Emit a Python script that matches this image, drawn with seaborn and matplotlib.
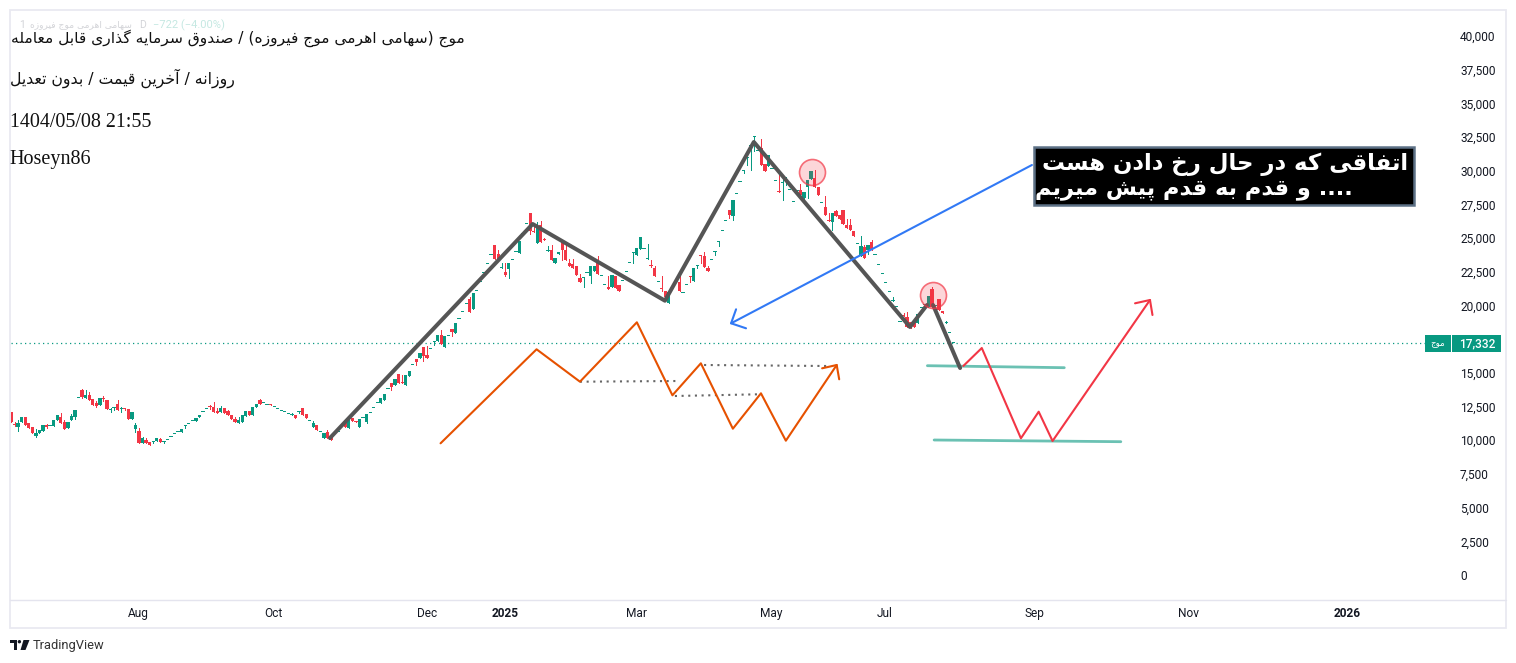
import numpy as np
import pandas as pd
import seaborn as sns
import matplotlib
matplotlib.use('Agg')
import matplotlib.pyplot as plt
from matplotlib.patches import Rectangle, Polygon, Circle

# daily candles, ten bars per row
bar_open = [
    12070,11140,10960,11350,11720,11280,10980,10340,10560,10710,
    11130,11060,11060,11500,11720,11380,10930,11500,11750,13110,
    13750,13130,13360,13040,12790,12620,13160,12990,12270,12370,
    12690,12290,12390,12290,11600,10810,10690,9820,10020,9850,
    9900,9940,10090,9900,9990,10220,10440,10590,10590,11030,
    11180,11400,11430,11720,12070,12290,12440,12470,12170,12100,
    12390,12140,11900,11600,11300,11350,11820,12190,11870,12490,
    12990,12740,12590,12600,12440,12290,12140,12070,11920,11870,
    11870,12120,12390,11970,11400,10980,11130,10590,10170,10590,
    10220,10560,10640,11030,11380,10930,11650,11340,11010,11630,
    11350,11990,12370,12740,12740,13010,13780,14220,14120,14915,
    14280,14120,14790,15560,16000,16100,16920,16330,16750,17260,
    17390,17810,16890,17710,18250,17960,18970,19490,20080,20480,
    19740,21050,21720,22390,23050,23720,24490,23790,22760,22480,
    22710,23350,23990,23920,25280,26020,26860,25530,24660,25970,
    24860,24070,24120,23180,23820,24710,24120,23170,23050,22950,
    22040,22010,22390,22210,22560,23270,22160,21500,21350,21350,
    22190,21520,21840,22460,23130,23870,23750,24220,24170,23420,
    22960,22760,21720,21220,21070,20210,21350,21770,21720,20900,
    21500,22130,21820,22950,23650,23670,22760,23350,23990,24730,
    25530,26270,27080,26640,28250,29140,30000,30920,31830,32470,
    31460,31660,30500,30350,30100,29210,28400,29060,29190,28570,
    27650,28490,28570,27970,28760,29360,29460,28790,27600,27280,
    26250,26190,27010,26710,27110,25970,25970,25530,24540,23700,
    24360,24120,24710,23720,22980,22310,21640,20980,20360,19910,
    18750,19220,19170,18800,18850,18680,19840,20040,19910,21220,
    19960,20480,19590,18725,17930,17210,
]
bar_high = [
    12070,11380,11500,11720,11720,11280,10980,10810,10760,11130,
    11200,11060,11500,11870,12050,11500,11380,11950,12240,13110,
    13800,13730,13580,13040,12940,13130,13280,12990,12420,12470,
    12990,12490,12390,12290,12100,11260,10880,10270,10140,9850,
    9900,10140,10170,9900,9990,10220,10440,10590,10830,11030,
    11180,11400,11650,11870,12070,12290,12590,12810,12420,12540,
    12390,12240,11900,11720,11750,11850,12170,12190,12470,12690,
    13060,12740,12590,12690,12440,12290,12140,12070,11920,12020,
    11870,12120,12390,11970,11400,11450,11130,10590,10560,10740,
    10220,10560,10640,11030,11380,11630,11650,11450,11580,11630,
    11920,11990,12370,12740,13140,13410,13780,14220,14540,14915,
    14840,14840,15140,15560,16000,16450,16920,16990,16750,17260,
    17810,18150,17730,17710,18250,18700,18970,19490,20080,20650,
    20900,21050,21720,22390,23050,23720,24490,24120,23130,23180,
    23150,23350,23990,24780,25280,26020,26860,25970,26220,26270,
    25030,24410,24490,23550,23970,24710,24730,23420,23420,22950,
    22340,22060,22390,22950,22950,23670,22160,21500,22190,22240,
    22190,21520,21840,22460,23130,23870,24260,25080,24170,24560,
    23370,22930,21720,22190,21070,21000,21350,21770,22380,20900,
    21500,22130,22760,22950,23650,23940,22930,23350,23990,24730,
    25530,26270,27080,27830,28250,29140,30000,30920,31830,32470,
    31460,32350,30500,31160,30100,29210,29730,29680,29510,28570,
    27650,28490,29010,28420,29310,29980,30050,28790,27600,28120,
    26890,26840,27080,26710,27110,26390,26420,25530,24540,25160,
    24490,24490,24860,23720,22980,22310,21640,20980,20650,19910,
    18750,19470,19520,18800,18850,19340,19840,20040,20700,21400,
    19960,20480,19590,18870,17930,17210,
]
bar_low = [
    11380,11060,10690,11350,11160,10910,10560,10240,10560,10710,
    10880,11060,11060,11500,11300,10830,10930,11500,11600,13110,
    13160,13130,12990,12620,12470,12620,12910,12320,12100,12270,
    12270,12100,12220,11580,11600,10640,9820,9820,9820,9650,
    9800,9940,9900,9800,9990,10220,10440,10590,10590,10910,
    11180,11400,11430,11720,12070,12290,12290,12120,12020,12100,
    11990,11870,11580,11350,11300,11350,11820,11870,11870,12490,
    12710,12740,12590,12590,12440,12290,12140,12070,11920,11870,
    11670,12020,11900,11670,11400,10980,10780,10590,10170,10140,
    10040,10560,10640,11030,11010,10930,11450,11330,11010,11630,
    11300,11990,12370,12740,12740,13010,13780,13730,14120,14220,
    14270,14120,14790,15560,15610,16100,15900,16130,16750,17090,
    17390,17120,16890,17710,17760,17960,18970,19490,20080,19540,
    19740,21050,21720,22390,23050,23720,23450,23300,22760,22190,
    22010,23350,23990,23920,25280,26020,25300,25430,24660,24730,
    24850,24070,23370,23180,23820,23370,23370,22950,22800,22260,
    21740,21370,22390,21670,22560,22340,22160,21500,21220,21350,
    21300,21070,21840,22460,23130,23130,23750,24220,24170,23420,
    22880,22190,21720,21100,20630,20210,21350,21770,21070,20900,
    21500,21770,21820,22800,23180,22850,22560,23350,23750,24440,
    25530,26270,26520,26340,28250,29140,29800,30420,30050,31490,
    31460,30420,29980,30350,30100,29210,28390,27830,28940,28570,
    27650,28490,28070,27830,27950,29360,28810,28200,27600,26710,
    26240,25600,26610,26420,26050,25750,25600,25160,24540,23700,
    23520,23820,24120,23720,22980,22310,21640,20980,20360,19910,
    18750,19200,18430,18300,18430,18680,19840,20040,19910,19910,
    19960,19660,19420,18725,17930,17210,
]
bar_close = [
    11380,11100,11300,11720,11160,10910,10560,10510,10760,11130,
    11010,11060,11500,11870,11300,10830,11380,11800,12240,13110,
    13210,13360,12990,12620,12540,13130,13040,12320,12270,12370,
    12270,12290,12290,11580,12100,11130,9820,10170,9820,9650,
    9900,10140,9900,9900,9990,10220,10440,10590,10830,11030,
    11180,11400,11650,11870,12070,12290,12430,12120,12020,12390,
    11990,11870,11580,11350,11500,11850,12170,11870,12470,12690,
    12710,12740,12590,12590,12440,12290,12140,12070,11920,11870,
    11670,12120,11900,11670,11400,11280,10780,10590,10560,10140,
    10040,10560,10640,11030,11010,11630,11450,11330,11580,11630,
    11920,11990,12370,12740,13140,13410,13780,13950,14540,14220,
    14270,14840,15140,15560,15810,16450,16280,16130,16750,17260,
    17810,17120,17730,17710,18030,18700,18970,19490,20080,19540,
    20900,21050,21720,22390,23050,23720,23450,23300,22760,22260,
    23150,23350,23990,24780,25280,26020,25530,25430,25800,24730,
    24850,24070,23370,23550,23970,24140,23370,22950,22800,22260,
    21740,22010,22390,22950,22950,22340,22160,21500,21220,22240,
    21300,21070,21840,22460,23130,23870,24260,25080,24170,23420,
    22950,22190,21720,21200,20630,21000,21350,21770,21070,20900,
    21500,22120,22760,22950,23640,22850,22560,23350,23990,24730,
    25530,26270,26710,27830,28250,29140,30000,30920,31830,32470,
    31460,30420,29980,31160,30100,29210,28390,29060,29190,28570,
    27650,28490,28200,28420,29310,29980,28810,28200,27600,26710,
    26240,26840,26610,26420,26050,25750,25600,25160,24540,24410,
    23520,24490,24120,23720,22980,22310,21640,20980,20360,19910,
    18750,19200,18430,18300,18430,19340,19840,20040,20700,19910,
    19960,19660,19420,18725,17930,17210,
]
last_line = 17210
last_label = '17,332'

# hand drawn lines on the chart: bar number and price
wave_x = [89.7, 146.7, 183.9, 208.9, 252.8, 257.6]
wave_y = [10165, 26044, 20353, 32129, 18402, 20034]
wave2_x = [259.3, 266.9]
wave2_y = [20034, 15359]
orange_x = [120.8, 147.8, 160, 176, 186, 194, 203, 210.9, 217.9, 232.2]
orange_y = [9772, 16747, 14343, 18750, 13334, 15708, 10855, 13482, 9965, 15582]
orange_head_x = [228.1, 232.2, 232.9]
orange_head_y = [15337, 15582, 14521]
dots = [([160, 187.7], [14343, 14395]),
        ([186.7, 210.2], [13282, 13408]),
        ([194.9, 229.4], [15582, 15508])]
red_x = [267.8, 273, 284, 289, 292.9, 320.3]
red_y = [15508, 16843, 10143, 12117, 9943, 20405]
red_head_x = [316.1, 320.3, 321]
red_head_y = [20160, 20405, 19292]
teal = [([257.7, 296.2], [15530, 15382]),
        ([259.6, 312.1], [10017, 9891])]
blue_x = [287.1, 202.5]
blue_y = [30422, 18676]
blue_head_x = [203.9, 202.5, 206.7]
blue_head_y = [19715, 18676, 18305]
circle_x = [225.3, 259.4]
circle_y = [29903, 20754]

# the price tag hides the 17,500 label
y_ticks = [0, 2500, 5000, 7500, 10000, 12500, 15000, 20000, 22500, 25000,
           27500, 30000, 32500, 35000, 37500, 40000]
x_ticks = [35.7, 73.7, 117, 138.9, 176, 213.7, 245.8, 287.7, 331, 375.7]
x_labels = ['Aug', 'Oct', 'Dec', '2025', 'Mar', 'May', 'Jul', 'Sep', 'Nov', '2026']

title1 = 'موج (سهامی اهرمی موج فیروزه) / صندوق سرمایه گذاری قابل معامله'
title2 = 'روزانه / آخرین قیمت / بدون تعدیل'
faint = 'سهامی اهرمی موج فیروزه'
box1 = 'اتفاقی که در حال رخ دادن هست'
box2 = '.... و قدم به قدم پیش میریم'

RED = '#f23645'
GREEN = '#089981'

# isolated, final, initial, medial
forms = {
    'ا': (0xFE8D, 0xFE8E), 'آ': (0xFE81, 0xFE82), 'د': (0xFEA9, 0xFEAA),
    'ذ': (0xFEAB, 0xFEAC), 'ر': (0xFEAD, 0xFEAE), 'ز': (0xFEAF, 0xFEB0),
    'و': (0xFEED, 0xFEEE),
    'ب': (0xFE8F, 0xFE90, 0xFE91, 0xFE92), 'پ': (0xFB56, 0xFB57, 0xFB58, 0xFB59),
    'ت': (0xFE95, 0xFE96, 0xFE97, 0xFE98), 'ج': (0xFE9D, 0xFE9E, 0xFE9F, 0xFEA0),
    'ح': (0xFEA1, 0xFEA2, 0xFEA3, 0xFEA4), 'خ': (0xFEA5, 0xFEA6, 0xFEA7, 0xFEA8),
    'س': (0xFEB1, 0xFEB2, 0xFEB3, 0xFEB4), 'ش': (0xFEB5, 0xFEB6, 0xFEB7, 0xFEB8),
    'ص': (0xFEB9, 0xFEBA, 0xFEBB, 0xFEBC), 'ع': (0xFEC9, 0xFECA, 0xFECB, 0xFECC),
    'ف': (0xFED1, 0xFED2, 0xFED3, 0xFED4), 'ق': (0xFED5, 0xFED6, 0xFED7, 0xFED8),
    'ک': (0xFB8E, 0xFB8F, 0xFB90, 0xFB91), 'گ': (0xFB92, 0xFB93, 0xFB94, 0xFB95),
    'ل': (0xFEDD, 0xFEDE, 0xFEDF, 0xFEE0), 'م': (0xFEE1, 0xFEE2, 0xFEE3, 0xFEE4),
    'ن': (0xFEE5, 0xFEE6, 0xFEE7, 0xFEE8), 'ه': (0xFEE9, 0xFEEA, 0xFEEB, 0xFEEC),
    'ی': (0xFBFC, 0xFBFD, 0xFBFE, 0xFBFF),
}


# matplotlib does no shaping or right to left, so do it here
def fa(text):
    out = []
    for i, ch in enumerate(text):
        if ch not in forms:
            out.append({'(': ')', ')': '('}.get(ch, ch))
            continue
        prev = text[i - 1] if i > 0 else ' '
        nxt = text[i + 1] if i < len(text) - 1 else ' '
        joins_prev = prev in forms and len(forms[prev]) == 4
        joins_next = nxt in forms and len(forms[ch]) == 4
        if joins_prev and joins_next:
            code = forms[ch][3]
        elif joins_next:
            code = forms[ch][2]
        elif joins_prev:
            code = forms[ch][1]
        else:
            code = forms[ch][0]
        out.append(chr(code))
    return ''.join(reversed(out))


sns.set_theme(style='white')
plt.rcParams['font.family'] = ['Roboto', 'DejaVu Sans']

df = pd.DataFrame({'open': bar_open, 'high': bar_high, 'low': bar_low, 'close': bar_close})
df['bar'] = np.arange(len(df))
df['color'] = np.where(df['close'] >= df['open'], GREEN, RED)
df['body'] = (df['close'] - df['open']).abs().clip(lower=75)
df['bottom'] = df[['open', 'close']].min(axis=1)

fig = plt.figure(figsize=(15.16, 6.63), dpi=100)
ax = fig.add_axes([11 / 1516, 63 / 663, 1440 / 1516, 589 / 663])

ax.axhline(last_line, color=GREEN, lw=0.9, ls=(0, (1, 2.6)), zorder=1)
ax.vlines(df['bar'], df['low'], df['high'], colors=df['color'], lw=0.72, antialiased=False, zorder=2)
ax.bar(df['bar'], df['body'], bottom=df['bottom'], width=0.92, color=df['color'], lw=0,
       antialiased=False, zorder=3)

sns.lineplot(x=wave_x, y=wave_y, sort=False, estimator=None, color='#555555', lw=2.9, ax=ax, zorder=5)
sns.lineplot(x=wave2_x, y=wave2_y, sort=False, estimator=None, color='#555555', lw=2.9, ax=ax, zorder=5)
for xs, ys in dots:
    sns.lineplot(x=xs, y=ys, sort=False, estimator=None, color='#666666', lw=1.5, ls=(0, (1, 2.2)), ax=ax, zorder=4)
for xs, ys in teal:
    sns.lineplot(x=xs, y=ys, sort=False, estimator=None, color='#089981', alpha=0.6, lw=2, ax=ax, zorder=4)
sns.lineplot(x=orange_x, y=orange_y, sort=False, estimator=None, color='#e65100', lw=1.5, ax=ax, zorder=4)
sns.lineplot(x=orange_head_x, y=orange_head_y, sort=False, estimator=None, color='#e65100', lw=1.5, ax=ax, zorder=4)
sns.lineplot(x=red_x, y=red_y, sort=False, estimator=None, color=RED, lw=1.5, ax=ax, zorder=6)
sns.lineplot(x=red_head_x, y=red_head_y, sort=False, estimator=None, color=RED, lw=1.5, ax=ax, zorder=6)
sns.lineplot(x=blue_x, y=blue_y, sort=False, estimator=None, color='#3179f5', lw=1.5, ax=ax, zorder=6)
sns.lineplot(x=blue_head_x, y=blue_head_y, sort=False, estimator=None, color='#3179f5', lw=1.5, ax=ax, zorder=6)
sns.scatterplot(x=circle_x, y=circle_y, s=350, facecolor=(0.95, 0.21, 0.27, 0.2),
                edgecolor=(0.95, 0.21, 0.27, 0.7), linewidth=1.2, ax=ax, zorder=7)

ax.set_xlim(0, 404.95)
ax.set_ylim(-1855, 41849)
ax.set_xticks(x_ticks, x_labels)
ax.set_yticks(y_ticks, [f'{v:,}' for v in y_ticks])
ax.yaxis.tick_right()
ax.tick_params(axis='y', length=0, pad=6.5, labelsize=8.6, labelcolor='#131722')
ax.tick_params(axis='x', length=0, pad=5.2, labelsize=8.6, labelcolor='#131722')
for lab in ax.get_yticklabels():
    lab.set_va('center_baseline')
for lab in ax.get_xticklabels():
    if lab.get_text() in ('2025', '2026'):
        lab.set_fontweight('bold')
sns.despine(ax=ax, left=True, right=True, top=True, bottom=True)

# frame, header, callout and logo sit on a pixel sized overlay
top = fig.add_axes([0, 0, 1, 1], zorder=10)
top.set_xlim(0, 1516)
top.set_ylim(663, 0)
top.axis('off')
top.patch.set_alpha(0)

top.add_patch(Rectangle((10, 10), 1496, 618, fill=False, ec='#e9e9f1', lw=1.3))
top.plot([10, 1506], [600, 600], color='#e4e4ee', lw=1)

top.add_patch(Rectangle((1425, 335), 25.5, 17, color=GREEN, lw=0))
top.add_patch(Rectangle((1452, 335), 49, 17, color=GREEN, lw=0))
top.text(1437.5, 343.5, fa('موج'), color='white', fontsize=6.2, ha='center', va='center', family='DejaVu Sans')
top.text(1477, 343.5, last_label, color='white', fontsize=8.6, fontweight='medium', ha='center', va='center')

top.text(19, 25, '1', color='#d3d4d8', fontsize=7.5, va='center')
top.text(30, 25, fa(faint), color='#d3d4d8', fontsize=6.6, va='center', family='DejaVu Sans')
top.text(139, 25, 'D', color='#d3d4d8', fontsize=7.5, va='center')
top.text(153, 25, '−722 (−4.00%)', color='#c5e8e2', fontsize=8, va='center')

top.text(465, 38, fa(title1), color='#111111', fontsize=11.15, ha='right', va='center', family='DejaVu Sans')
top.text(235, 78, fa(title2), color='#111111', fontsize=11.3, ha='right', va='center', family='DejaVu Sans')
top.text(10, 122.5, '1404/05/08 21:55', color='#111111', fontsize=14.4, va='center', family='Liberation Serif')
top.text(9.5, 159.5, 'Hoseyn86', color='#111111', fontsize=14.5, va='center', family='Liberation Serif')

top.add_patch(Rectangle((1034, 147), 380, 58, fc='black', ec='#5d7186', lw=1.8))
top.text(1408, 164, fa(box1), color='white', fontsize=16.4, fontweight='bold',
         ha='right', va='center', family='DejaVu Sans')
top.text(1353, 190, fa(box2), color='white', fontsize=16.2, fontweight='bold',
         ha='right', va='center', family='DejaVu Sans')

top.add_patch(Polygon([(10, 640), (17, 640), (17, 650), (13.5, 650), (13.5, 643.3), (10, 643.3)], color='#131722', lw=0))
top.add_patch(Circle((19.4, 641.7), 1.7, color='#131722', lw=0))
top.add_patch(Polygon([(23.5, 640), (29.5, 640), (25.5, 650), (20.5, 650)], color='#131722', lw=0))
top.text(33, 645.5, 'TradingView', color='#333333', fontsize=9.3, va='center')

fig.savefig('out.png', dpi=100)
